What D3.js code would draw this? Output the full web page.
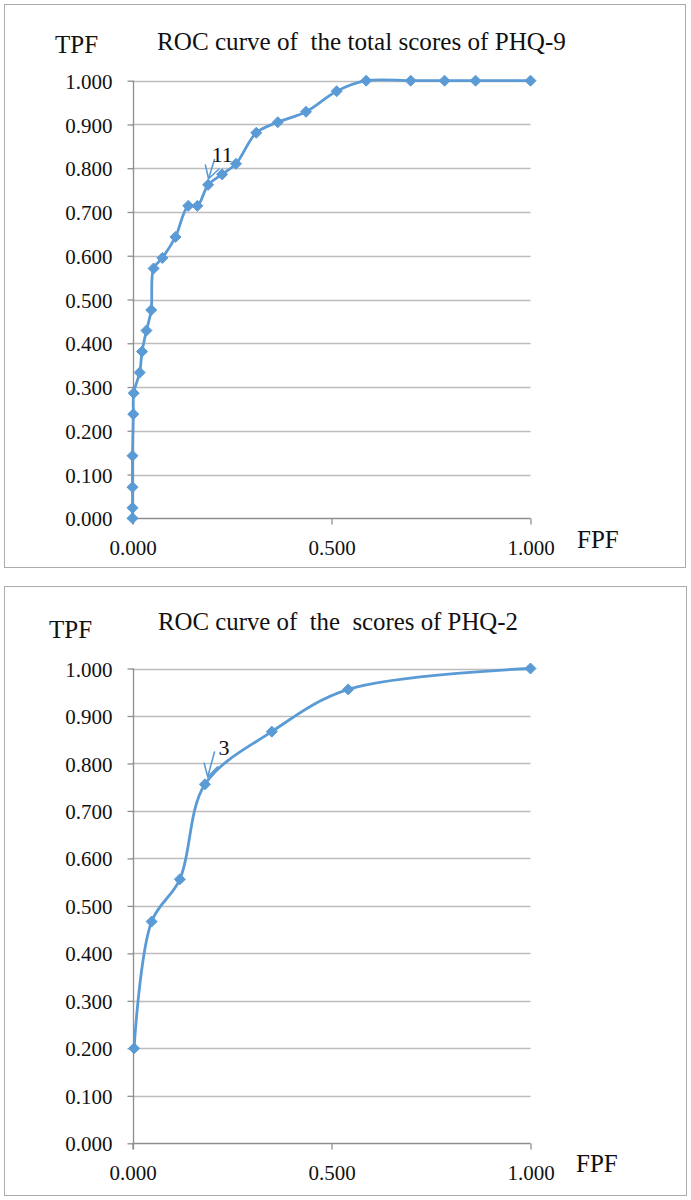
<!DOCTYPE html>
<html>
<head>
<meta charset="utf-8">
<script src="https://cdn.jsdelivr.net/npm/d3@7"></script>
<style>
  html, body { margin: 0; padding: 0; background: #fff; }
  svg { display: block; }
  svg text { font-family: "Liberation Serif", "DejaVu Serif", serif !important; fill: #111; white-space: pre; }
</style>
</head>
<body>
<svg id="chart" width="691" height="1200"></svg>
<script>
// ---------------- data ----------------
const phq9Title = "ROC curve of  the total scores of PHQ-9";
const phq9FPF = [0, 0, 0, 0, 0.002, 0.003, 0.018, 0.024, 0.035, 0.047, 0.053, 0.075, 0.108, 0.140, 0.163, 0.190, 0.225, 0.260, 0.311, 0.365, 0.436, 0.513, 0.587, 0.699, 0.784, 0.862, 1.000];
const phq9TPF = [0, 0.024, 0.071, 0.143, 0.238, 0.286, 0.333, 0.381, 0.429, 0.476, 0.571, 0.595, 0.643, 0.714, 0.714, 0.762, 0.786, 0.810, 0.881, 0.905, 0.929, 0.976, 1.000, 1.000, 1.000, 1.000, 1.000];
const phq9Cutoff = "11";
const phq9Arrow = { tipFPF: 0.191, tipTPF: 0.776, tailFPF: 0.206, tailTPF: 0.820, textFPF: 0.199, textTPF: 0.815 };

const phq2Title = "ROC curve of  the  scores of PHQ-2";
const phq2FPF = [0.004, 0.048, 0.119, 0.182, 0.350, 0.542, 1.000];
const phq2TPF = [0.200, 0.467, 0.556, 0.756, 0.867, 0.956, 1.000];
const phq2Cutoff = "3";
const phq2Arrow = { tipFPF: 0.189, tipTPF: 0.772, tailFPF: 0.206, tailTPF: 0.824, textFPF: 0.216, textTPF: 0.818 };

const yTicks = [0, 0.1, 0.2, 0.3, 0.4, 0.5, 0.6, 0.7, 0.8, 0.9, 1.0];
const xTicks = [0, 0.5, 1.0];
const xAxisName = "FPF";
const yAxisName = "TPF";

// ---------------- drawing ----------------
const BLUE = "#5B9BD5";
const GRID = "#BDBDBD";
const AXIS = "#8E8E8E";
const SERIF = "'Liberation Serif', 'DejaVu Serif', serif";
const fmt = d3.format(".3f");
const svg = d3.select("#chart");

function drawChart(cfg) {
  const g = svg.append("g");
  // frame
  g.append("rect")
    .attr("x", cfg.box[0] + 0.5).attr("y", cfg.box[1] + 0.5)
    .attr("width", cfg.box[2]).attr("height", cfg.box[3])
    .attr("fill", "#fff").attr("stroke", "#ABABAB").attr("stroke-width", 1);

  const x = d3.scaleLinear().domain([0, 1]).range([cfg.x0, cfg.x1]);
  const y = d3.scaleLinear().domain([0, 1]).range([cfg.y0, cfg.y1]);

  // horizontal gridlines
  g.append("g").selectAll("line").data(yTicks.filter(d => d > 0)).join("line")
    .attr("x1", x(0)).attr("x2", x(1))
    .attr("y1", d => Math.round(y(d)) + 0.5).attr("y2", d => Math.round(y(d)) + 0.5)
    .attr("stroke", GRID).attr("stroke-width", 1.3);

  // y axis
  const yAxis = d3.axisLeft(y).tickValues(yTicks).tickFormat(fmt).tickSize(6).tickPadding(15);
  const ya = g.append("g").attr("transform", `translate(${Math.round(x(0)) + 0.5},0)`).call(yAxis)
    .attr("font-family", SERIF).style("font-family", SERIF);
  ya.select(".domain").remove();
  ya.selectAll(".tick line").attr("stroke", AXIS).attr("stroke-width", 1.3);
  ya.selectAll(".tick text").style("font-family", SERIF).style("font-size", "21px").attr("fill", "#111").attr("dy", "0.36em");
  g.append("line")
    .attr("x1", Math.round(x(0)) + 0.5).attr("x2", Math.round(x(0)) + 0.5)
    .attr("y1", y(1)).attr("y2", y(0) + 6)
    .attr("stroke", AXIS).attr("stroke-width", 1.3);

  // x axis
  const xAxis = d3.axisBottom(x).tickValues(xTicks).tickFormat(fmt).tickSize(6).tickPadding(16);
  const xa = g.append("g").attr("transform", `translate(0,${Math.round(y(0)) + 0.5})`).call(xAxis)
    .attr("font-family", SERIF).style("font-family", SERIF);
  xa.select(".domain").attr("stroke", AXIS).attr("stroke-width", 1.3).attr("d", `M${x(0)},0H${x(1)}`);
  xa.selectAll(".tick line").attr("stroke", AXIS).attr("stroke-width", 1.3);
  xa.selectAll(".tick text").style("font-family", SERIF).style("font-size", "21px").attr("fill", "#111");

  // curve
  const pts = cfg.fpf.map((f, i) => [f, cfg.tpf[i]]);
  const line = d3.line().x(d => x(d[0])).y(d => y(d[1])).curve(d3.curveCatmullRom.alpha(0.5));
  g.append("path").datum(pts).attr("d", line)
    .attr("fill", "none").attr("stroke", BLUE).attr("stroke-width", 2.8)
    .attr("stroke-linejoin", "round").attr("stroke-linecap", "round");

  // diamond markers
  const r = 5.5;
  g.append("g").selectAll("path").data(pts).join("path")
    .attr("d", d => `M${x(d[0])},${y(d[1]) - r}L${x(d[0]) + r},${y(d[1])}L${x(d[0])},${y(d[1]) + r}L${x(d[0]) - r},${y(d[1])}Z`)
    .attr("fill", BLUE).attr("stroke", BLUE).attr("stroke-width", 1);

  // annotation arrow
  const a = cfg.arrow;
  const tx = x(a.tipFPF), ty = y(a.tipTPF), sx = x(a.tailFPF), sy = y(a.tailTPF);
  const ang = Math.atan2(sy - ty, sx - tx);
  const hl = 14, spread = Math.PI / 6;
  const ag = g.append("g").attr("stroke", BLUE).attr("stroke-width", 1.6).attr("fill", "none").attr("stroke-linecap", "round");
  ag.append("line").attr("x1", sx).attr("y1", sy).attr("x2", tx).attr("y2", ty);
  ag.append("path").attr("d",
    `M${tx + hl * Math.cos(ang - spread)},${ty + hl * Math.sin(ang - spread)}L${tx},${ty}L${tx + hl * Math.cos(ang + spread)},${ty + hl * Math.sin(ang + spread)}`);
  g.append("text").attr("x", x(a.textFPF)).attr("y", y(a.textTPF))
    .style("font-size", "22px").text(cfg.cutoff);

  // axis names & title
  g.append("text").attr("x", cfg.tpfPos[0]).attr("y", cfg.tpfPos[1]).style("font-size", "25px").text(yAxisName);
  g.append("text").attr("x", cfg.fpfPos[0]).attr("y", cfg.fpfPos[1]).style("font-size", "25px").text(xAxisName);
  const t = g.append("text").attr("x", cfg.titlePos[0]).attr("y", cfg.titlePos[1]).style("font-size", "25px").text(cfg.title);
  const w = t.node().getComputedTextLength();
  if (w > 0) t.style("font-size", (25 * cfg.titleW / w) + "px");
}

drawChart({
  box: [4, 4, 681, 563],
  x0: 132.5, x1: 530.5, y0: 518.3, y1: 80.7,
  fpf: phq9FPF, tpf: phq9TPF, title: phq9Title, cutoff: phq9Cutoff, arrow: phq9Arrow,
  tpfPos: [55, 53], fpfPos: [577, 548], titlePos: [157, 50], titleW: 409
});

drawChart({
  box: [4, 586, 682, 609],
  x0: 132.5, x1: 530.5, y0: 1143.3, y1: 668.5,
  fpf: phq2FPF, tpf: phq2TPF, title: phq2Title, cutoff: phq2Cutoff, arrow: phq2Arrow,
  tpfPos: [49, 638], fpfPos: [576, 1172], titlePos: [158, 630], titleW: 360
});
</script>
</body>
</html>
